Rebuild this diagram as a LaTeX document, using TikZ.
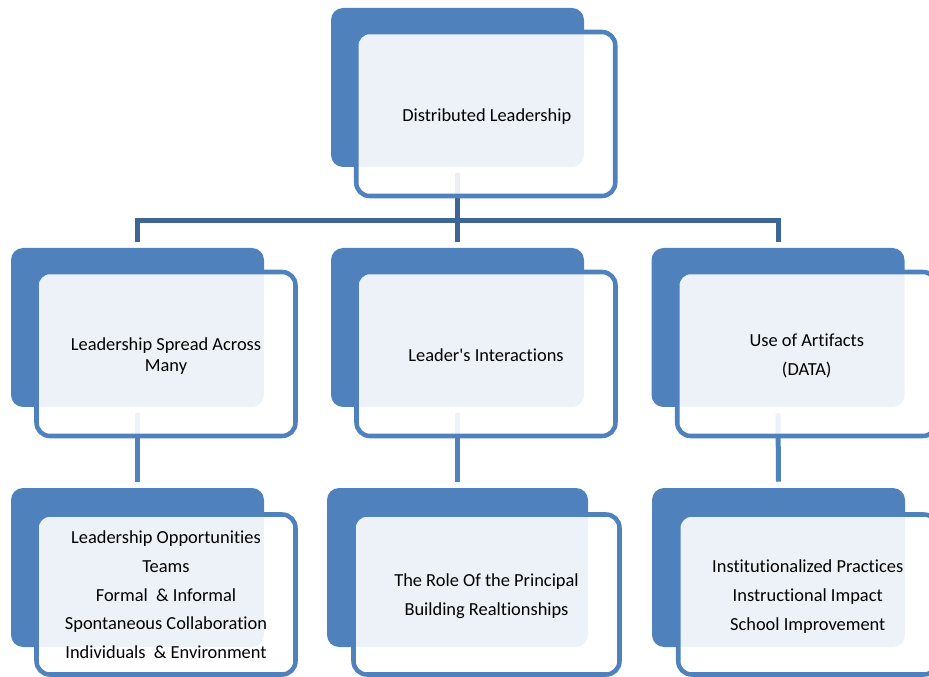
\documentclass[tikz,border=0pt]{standalone}
\usepackage{fontspec}
\setmainfont{Carlito}[Ligatures={TeXOff,NoCommon}]
\usetikzlibrary{calc,backgrounds}
\definecolor{accent}{HTML}{4F81BD}
\definecolor{conndark}{HTML}{3D6597}
\begin{document}
\begin{tikzpicture}[x=0.75pt,y=-0.75pt,
  backbox/.style={fill=accent, draw=none, rounded corners=9pt,
    minimum width=253*0.75pt, minimum height=159*0.75pt, inner sep=0pt},
  frontbox/.style={draw=accent, line width=3.4pt, fill=white, fill opacity=0.9,
    rounded corners=10pt, minimum width=259*0.75pt,
    minimum height=164*0.75pt, inner sep=0pt},
  lbl/.style={inner sep=0pt, align=center, text=black,
    font=\fontsize{13.8pt}{21.5pt}\selectfont},
  upconn/.style={draw=conndark, line width=3.75pt},
  lowconn/.style={draw=accent, line width=3.75pt}]
\clip (0,0) rectangle (929,677);
% back boxes
\node[backbox] (b0) at (457.5,87.5) {};
\node[backbox] (b1) at (137.5,327.5) {};
\node[backbox] (b2) at (457.5,327.5) {};
\node[backbox] (b3) at (778,327.5) {};
\node[backbox] (b4) at (137.5,567.5) {};
\node[backbox, minimum width=261*0.75pt] (b5) at (457.5,567.5) {};
\node[backbox] (b6) at (778.5,567.5) {};
% front boxes
\node[frontbox] (f0) at (485.75,114) {};
\node[frontbox] (f1) at (166,354) {};
\node[frontbox] (f2) at (486,354) {};
\node[frontbox] (f3) at (806.75,354) {};
\node[frontbox, minimum height=160*0.75pt] (f4) at (166,594.5) {};
\node[frontbox, minimum height=160*0.75pt, minimum width=266*0.75pt] (f5) at (486.5,594.5) {};
\node[frontbox, minimum height=160*0.75pt] (f6) at (807.75,594.5) {};
% texts
\node[lbl] (t0) at ($(f0.center)+(1,3)$) {Distributed Leadership};
\node[lbl, font=\fontsize{13.8pt}{15.8pt}\selectfont] (t1) at ($(f1.center)+(0,2)$) {Leadership Spread Across\\Many};
\node[lbl] (t2) at ($(f2.center)+(0,1.5)$) {Leader's Interactions};
\node[lbl] (t3) at ($(f3.center)+(0,2)$) {Use of Artifacts\\(DATA)};
\node[lbl] (t4) at ($(f4.center)+(0,0.5)$) {Leadership Opportunities\\Teams\\Formal\ \ \& Informal\\Spontaneous Collaboration\\Individuals\ \ \& Environment};
\node[lbl] (t5) at ($(f5.center)+(0,1.5)$) {The Role Of the Principal\\Building Realtionships};
\node[lbl] (t6) at ($(f6.center)+(0,2)$) {Institutionalized Practices\\Instructional Impact\\School Improvement};
% connectors
\begin{pgfonlayer}{background}
\draw[upconn] ($(b0.south)+(0,6)$) -- ($(b2.north)+(0,-6)$);
\draw[upconn] ($(b1.north)+(0,-6)$) |- ($(b2.north)+(0,-27)$) -| ($(b3.north)+(0,-6)$);
\draw[lowconn] ($(b1.south)+(0,6)$) -- ($(b4.north)+(0,-6)$);
\draw[lowconn] ($(b2.south)+(0,6)$) -- ($(b5.north)+(0,-6)$);
\draw[lowconn] ($(b3.south)+(0,6)$) -- ($(b6.north)+(0,-6)$);
\end{pgfonlayer}
\end{tikzpicture}
\end{document}
